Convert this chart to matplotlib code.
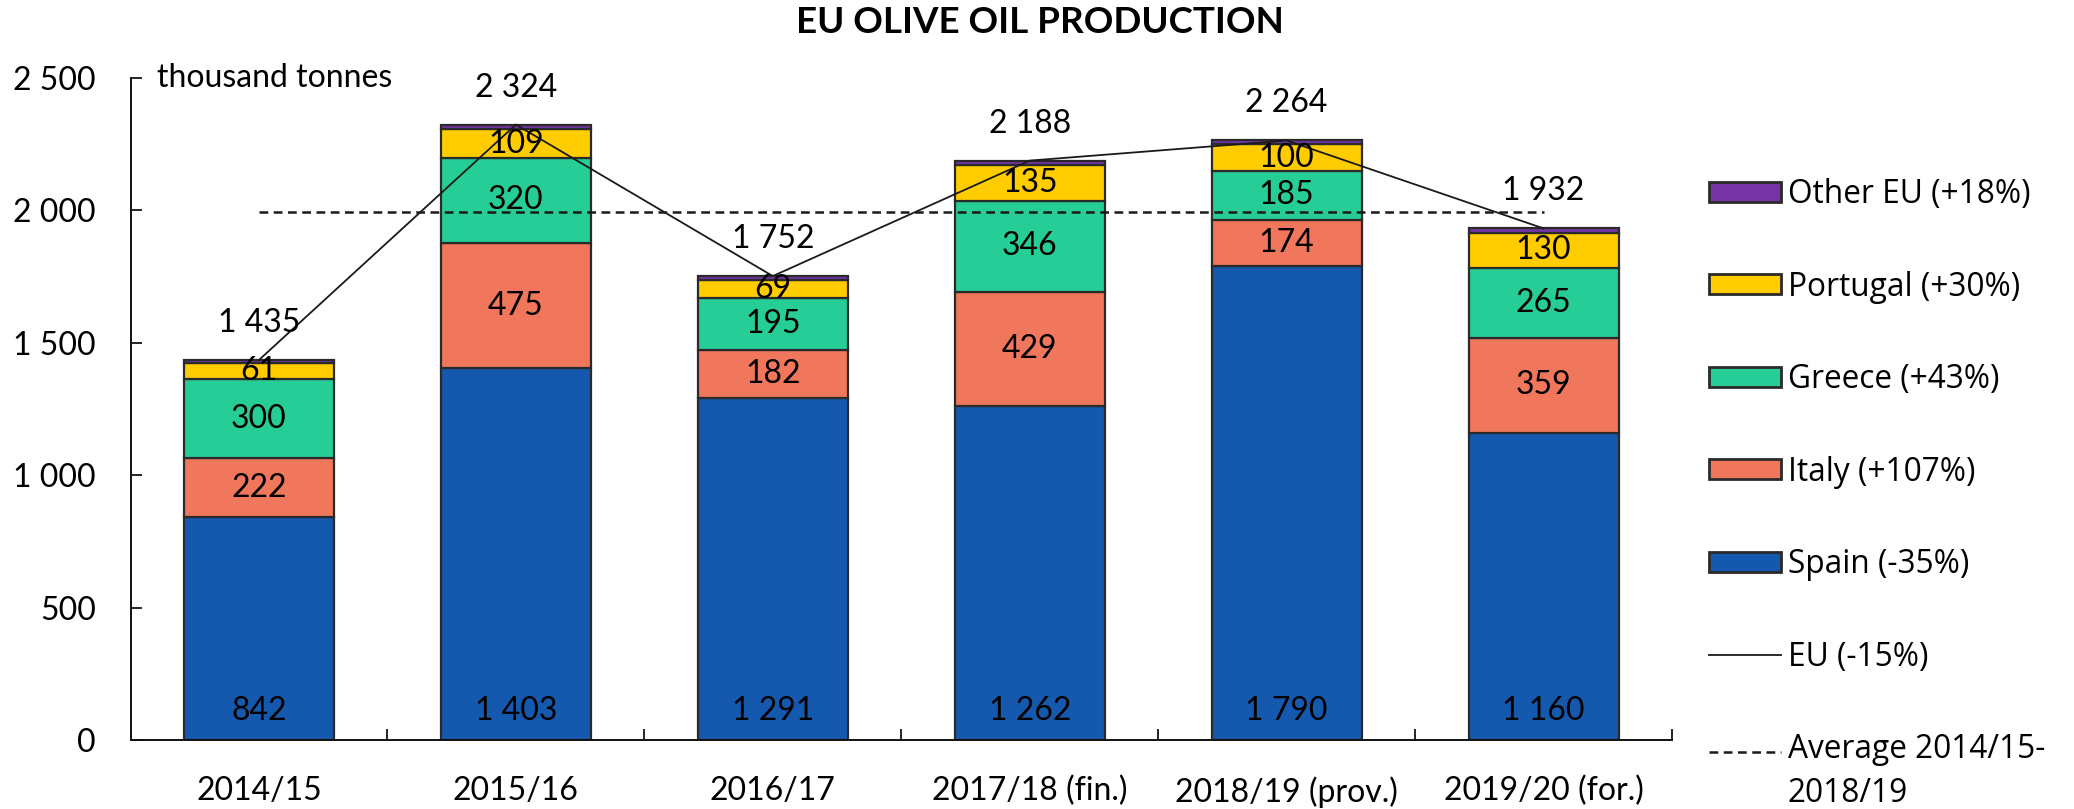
import matplotlib
matplotlib.use("Agg")
import matplotlib.pyplot as plt
from matplotlib.patches import Patch
from matplotlib.lines import Line2D
from matplotlib.legend_handler import HandlerLine2D
from matplotlib.font_manager import FontProperties
import numpy as np

# ---- data ----
categories = ["2014/15", "2015/16", "2016/17", "2017/18 (fin.)", "2018/19 (prov.)", "2019/20 (for.)"]
spain = [842, 1403, 1291, 1262, 1790, 1160]
italy = [222, 475, 182, 429, 174, 359]
greece = [300, 320, 195, 346, 185, 265]
portugal = [61, 109, 69, 135, 100, 130]
other_eu = [10, 17, 15, 16, 15, 18]
eu_total = [1435, 2324, 1752, 2188, 2264, 1932]
average_5y = 1992.6

series_names = ["Spain (-35%)", "Italy (+107%)", "Greece (+43%)", "Portugal (+30%)", "Other EU (+18%)"]
eu_label = "EU (-15%)"
avg_label = "Average 2014/15-\n2018/19"
yticks = [0, 500, 1000, 1500, 2000, 2500]

colors = ["#1559AE", "#F0765C", "#26CD96", "#FFCC00", "#7434A6"]
edge = "#2a2a2a"

def fmt(v):
    return f"{int(round(v)):,}".replace(",", " ")

num_font = "Lato"
W, H = 2074, 809
fig = plt.figure(figsize=(W / 100, H / 100), dpi=100)
ax = fig.add_axes([130.5 / W, 1 - 740 / H, (1672 - 130.5) / W, (740 - 78) / H])

x = np.arange(len(categories))
bw = 0.584
stack = [spain, italy, greece, portugal, other_eu]
bottom = np.zeros(len(categories))
for vals, c in zip(stack, colors):
    ax.bar(x, vals, width=bw, bottom=bottom, color=c, edgecolor=edge, linewidth=1.6, zorder=2)
    bottom += np.array(vals)

# segment labels
b = np.zeros(len(categories))
for k, vals in enumerate(stack[:4]):
    for i, v in enumerate(vals):
        if k == 0:
            ax.annotate(fmt(v), (x[i], 0), xytext=(0, 29), textcoords="offset pixels",
                        ha="center", va="center", fontsize=23, family=num_font, zorder=5)
        else:
            ax.text(x[i], b[i] + v / 2, fmt(v), ha="center", va="center",
                    fontsize=23, family=num_font, zorder=5)
    b += np.array(vals)

# EU line and totals
ax.plot(x, eu_total, color="#1a1a1a", lw=1.3, zorder=3)
for i, t in enumerate(eu_total):
    ax.annotate(fmt(t), (x[i], t), xytext=(0, 37), textcoords="offset pixels",
                ha="center", va="center", fontsize=23, family=num_font, zorder=5)

# average dashed line
ax.plot([x[0], x[-1]], [average_5y, average_5y], color="#1a1a1a", lw=1.8,
        ls=(0, (3.5, 2.2)), zorder=3)

ax.set_xlim(-0.5, len(categories) - 0.5)
ax.set_ylim(0, 2500)
for s in ["top", "right"]:
    ax.spines[s].set_visible(False)
for s in ["left", "bottom"]:
    ax.spines[s].set_linewidth(1.4)
    ax.spines[s].set_color("#111111")

ax.set_yticks(yticks)
ax.set_yticklabels([fmt(v) for v in yticks], family=num_font, fontsize=23)
ax.tick_params(axis="y", direction="in", length=8, width=1.2, pad=25)

ax.set_xticks(x)
ax.set_xticklabels(categories, family=num_font, fontsize=23)
ax.tick_params(axis="x", which="major", length=0, pad=26)
ax.set_xticks(np.arange(len(categories)) + 0.5, minor=True)
ax.tick_params(axis="x", which="minor", direction="in", length=8, width=1.2)

ax.text(0.0172, 1.0, "thousand tonnes", transform=ax.transAxes, ha="left", va="center",
        fontsize=23, family=num_font)

fig.text(1040 / W, 1 - 22.5 / H, "EU OLIVE OIL PRODUCTION", ha="center", va="center",
         fontsize=26.5, fontweight="bold", family=num_font)


# legend
class UpLineHandler(HandlerLine2D):
    def __init__(self, shift, **kw):
        super().__init__(**kw)
        self.shift = shift

    def create_artists(self, legend, orig_handle, xdescent, ydescent, width, height, fontsize, trans):
        arts = super().create_artists(legend, orig_handle, xdescent, ydescent, width, height, fontsize, trans)
        for a in arts:
            if isinstance(a, Line2D):
                a.set_ydata(np.asarray(a.get_ydata(), dtype=float) + self.shift)
        return arts


handles = [Patch(facecolor=colors[i], edgecolor=edge, linewidth=2) for i in [4, 3, 2, 1, 0]]
eu_handle = Line2D([], [], color="#1a1a1a", lw=1.3)
avg_handle = Line2D([], [], color="#1a1a1a", lw=1.8, ls=(0, (3.5, 2.2)))
handles += [eu_handle, avg_handle]
labels = [series_names[i] for i in [4, 3, 2, 1, 0]] + [eu_label, avg_label]
prop = FontProperties(family="Open Sans", size=22.8)
leg = fig.legend(handles, labels, loc="upper left", bbox_to_anchor=(1709 / W, 1 - 178 / H),
                 bbox_transform=fig.transFigure, frameon=False, borderpad=0, borderaxespad=0,
                 handlelength=2.26, handleheight=0.6, handletextpad=0.23, labelspacing=1.88,
                 prop=prop, handler_map={avg_handle: UpLineHandler(shift=15.5)})
leg.get_texts()[-1].set_linespacing(1.42)

fig.savefig("out.png", dpi=100)
